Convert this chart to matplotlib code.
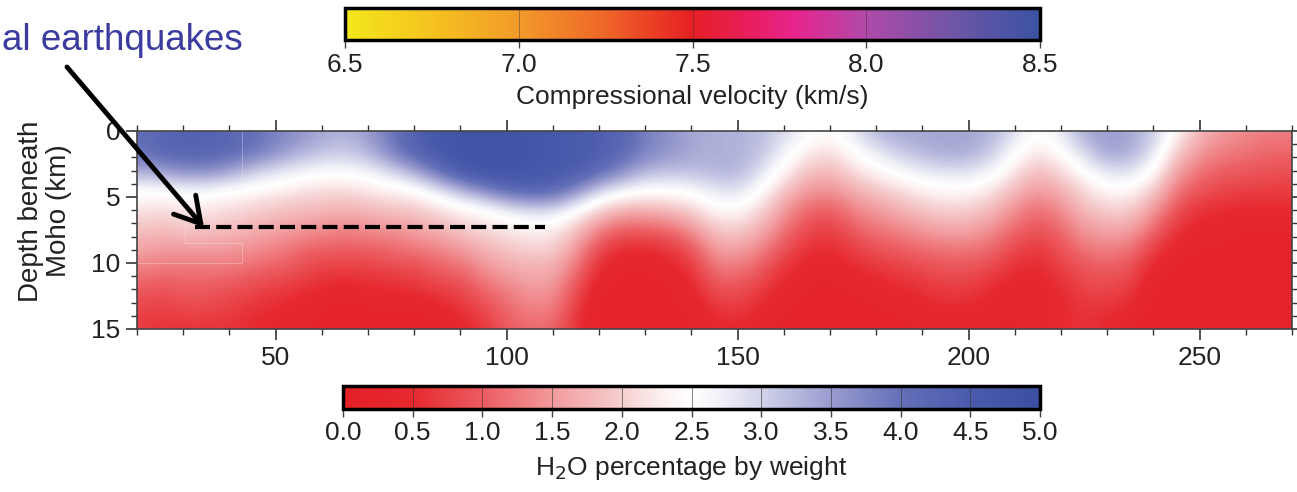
import numpy as np
import matplotlib
matplotlib.use("Agg")
import matplotlib.pyplot as plt
from matplotlib.colors import LinearSegmentedColormap, Normalize
from matplotlib.cm import ScalarMappable
from matplotlib.ticker import MultipleLocator

plt.rcParams['font.family'] = ['Liberation Sans', 'DejaVu Sans']

# ---------------- data ----------------
distance_km = [20, 25, 30, 35, 40, 45, 50, 55, 60, 65, 70, 75, 80, 85, 90, 95,
               100, 105, 110, 115, 120, 125, 130, 135, 140, 145, 150, 155, 160,
               165, 170, 175, 180, 185, 190, 195, 200, 205, 210, 215, 220, 225,
               230, 235, 240, 245, 250, 255, 260, 265, 270]
depth_km = [0, 1.5, 3, 4.5, 6, 7.5, 9, 10.5, 12, 13.5, 15]

# H2O wt% profiles (one list per distance, values at depth_km)
h2o_profiles = [
    [4.0, 4.0, 3.4, 2.5, 2.2, 1.9, 1.6, 1.3, 1.0, 0.8, 0.7],
    [4.2, 4.2, 3.5, 2.5, 2.1, 1.8, 1.5, 1.2, 0.9, 0.7, 0.6],
    [4.3, 4.3, 3.7, 2.6, 2.2, 1.9, 1.5, 1.2, 1.0, 0.8, 0.6],
    [4.3, 4.3, 3.7, 2.6, 2.2, 1.9, 1.5, 1.2, 1.0, 0.8, 0.6],
    [4.2, 4.2, 3.5, 2.5, 2.1, 1.8, 1.5, 1.2, 0.9, 0.7, 0.6],
    [4.0, 4.0, 3.1, 2.4, 2.0, 1.7, 1.4, 1.1, 0.8, 0.6, 0.5],
    [3.8, 3.7, 2.9, 2.3, 1.9, 1.6, 1.3, 1.0, 0.7, 0.5, 0.4],
    [3.6, 3.4, 2.7, 2.2, 1.8, 1.5, 1.1, 0.9, 0.6, 0.4, 0.3],
    [3.4, 3.2, 2.6, 2.1, 1.8, 1.4, 1.0, 0.7, 0.5, 0.3, 0.3],
    [3.3, 3.1, 2.6, 2.1, 1.7, 1.3, 1.0, 0.7, 0.4, 0.2, 0.2],
    [3.5, 3.3, 2.7, 2.2, 1.8, 1.4, 1.0, 0.7, 0.5, 0.3, 0.2],
    [3.9, 3.8, 3.0, 2.3, 1.9, 1.4, 1.1, 0.8, 0.5, 0.3, 0.2],
    [4.3, 4.3, 3.4, 2.4, 1.9, 1.6, 1.2, 0.8, 0.6, 0.3, 0.2],
    [4.6, 4.6, 4.0, 2.8, 2.1, 1.7, 1.3, 1.0, 0.7, 0.4, 0.2],
    [4.8, 4.8, 4.6, 3.2, 2.3, 1.9, 1.5, 1.1, 0.8, 0.6, 0.4],
    [4.8, 4.8, 4.8, 3.7, 2.4, 2.1, 1.7, 1.4, 1.1, 0.8, 0.6],
    [4.8, 4.8, 4.8, 4.1, 2.7, 2.2, 1.9, 1.6, 1.3, 1.1, 1.0],
    [4.7, 4.7, 4.7, 4.3, 2.9, 2.3, 2.0, 1.7, 1.5, 1.3, 1.1],
    [4.6, 4.6, 4.6, 4.2, 2.9, 2.3, 2.0, 1.7, 1.5, 1.3, 1.1],
    [4.5, 4.5, 4.5, 3.7, 2.5, 1.9, 1.5, 1.2, 0.9, 0.7, 0.6],
    [4.4, 4.4, 4.2, 3.0, 2.0, 1.3, 0.8, 0.5, 0.3, 0.2, 0.2],
    [4.2, 4.2, 3.7, 2.7, 1.7, 1.0, 0.5, 0.3, 0.2, 0.2, 0.2],
    [3.8, 3.8, 3.3, 2.5, 1.7, 1.0, 0.5, 0.3, 0.2, 0.2, 0.2],
    [3.6, 3.6, 3.2, 2.5, 1.8, 1.1, 0.6, 0.4, 0.3, 0.3, 0.3],
    [3.4, 3.4, 3.2, 2.6, 2.0, 1.4, 0.9, 0.6, 0.4, 0.3, 0.3],
    [3.3, 3.3, 3.3, 2.8, 2.4, 1.9, 1.5, 1.2, 0.9, 0.6, 0.4],
    [3.3, 3.3, 3.3, 2.9, 2.4, 2.0, 1.6, 1.2, 0.9, 0.7, 0.5],
    [3.2, 3.2, 2.9, 2.5, 2.1, 1.7, 1.3, 1.0, 0.7, 0.5, 0.3],
    [3.0, 2.7, 2.4, 1.9, 1.5, 1.2, 0.9, 0.6, 0.4, 0.3, 0.3],
    [2.6, 2.3, 1.9, 1.5, 1.1, 0.8, 0.6, 0.4, 0.3, 0.3, 0.3],
    [2.5, 2.1, 1.8, 1.4, 1.0, 0.7, 0.5, 0.3, 0.3, 0.3, 0.3],
    [2.8, 2.5, 2.1, 1.7, 1.3, 1.0, 0.7, 0.5, 0.3, 0.3, 0.3],
    [3.3, 2.8, 2.4, 1.9, 1.5, 1.2, 0.9, 0.6, 0.4, 0.3, 0.3],
    [3.4, 3.1, 2.6, 2.1, 1.7, 1.3, 1.0, 0.7, 0.5, 0.3, 0.3],
    [3.4, 3.3, 2.8, 2.3, 1.9, 1.5, 1.1, 0.8, 0.6, 0.4, 0.3],
    [3.4, 3.4, 2.9, 2.4, 2.0, 1.6, 1.2, 0.9, 0.7, 0.5, 0.3],
    [3.4, 3.4, 2.9, 2.4, 2.0, 1.6, 1.2, 0.9, 0.7, 0.5, 0.3],
    [3.3, 3.1, 2.7, 2.2, 1.8, 1.4, 1.1, 0.8, 0.5, 0.4, 0.3],
    [2.9, 2.6, 2.2, 1.8, 1.4, 1.1, 0.8, 0.5, 0.4, 0.3, 0.3],
    [2.5, 2.2, 1.8, 1.5, 1.1, 0.9, 0.6, 0.5, 0.4, 0.4, 0.4],
    [2.8, 2.5, 2.1, 1.7, 1.4, 1.1, 0.9, 0.7, 0.5, 0.5, 0.5],
    [3.4, 3.0, 2.5, 2.1, 1.8, 1.5, 1.2, 0.9, 0.8, 0.6, 0.6],
    [3.5, 3.5, 2.9, 2.4, 2.0, 1.6, 1.3, 1.0, 0.8, 0.6, 0.5],
    [3.4, 3.4, 2.9, 2.4, 2.0, 1.6, 1.2, 0.9, 0.7, 0.5, 0.3],
    [3.1, 2.9, 2.5, 2.0, 1.5, 1.1, 0.7, 0.4, 0.3, 0.2, 0.2],
    [2.4, 2.0, 1.6, 1.2, 0.9, 0.6, 0.4, 0.3, 0.2, 0.2, 0.2],
    [1.8, 1.5, 1.2, 0.9, 0.6, 0.4, 0.3, 0.2, 0.2, 0.2, 0.2],
    [1.5, 1.3, 1.0, 0.8, 0.5, 0.4, 0.3, 0.2, 0.2, 0.2, 0.2],
    [1.4, 1.2, 1.0, 0.7, 0.5, 0.3, 0.2, 0.2, 0.2, 0.2, 0.2],
    [1.3, 1.1, 0.9, 0.7, 0.5, 0.3, 0.2, 0.2, 0.2, 0.2, 0.2],
    [1.3, 1.1, 0.9, 0.7, 0.5, 0.3, 0.2, 0.2, 0.2, 0.2, 0.2],
]

x_ticks = [50, 100, 150, 200, 250]
depth_ticks = [0, 5, 10, 15]
velocity_ticks = [6.5, 7.0, 7.5, 8.0, 8.5]
h2o_ticks = [0.0, 0.5, 1.0, 1.5, 2.0, 2.5, 3.0, 3.5, 4.0, 4.5, 5.0]

dashed_x = [32.6, 108.3]
dashed_depth = [7.3, 7.3]
arrow_tip = (34.5, 7.3)

# faint outline of a pasted patch visible in the image (distance, depth)
patch_x = [42.7, 42.7, 30.4, 30.4, 42.7, 42.7, 20.0]
patch_depth = [0.0, 6.6, 6.6, 8.5, 8.5, 10.0, 10.0]

# ---------------- colormaps ----------------
h2o_cmap = LinearSegmentedColormap.from_list("h2o", [
    (0.0, "#e41f26"), (0.1, "#e62a30"), (0.2, "#ec5c60"), (0.3, "#f29a9c"),
    (0.4, "#f6cfd0"), (0.46, "#fdf1f1"), (0.5, "#ffffff"), (0.54, "#f2f2f9"),
    (0.6, "#d2d3ea"), (0.7, "#9a9ccf"),
    (0.8, "#6470b8"), (0.9, "#4a5bac"), (1.0, "#3a4ea3")])
vel_cmap = LinearSegmentedColormap.from_list("vel", [
    (0.0, "#f3e71c"), (0.125, "#f5c21f"), (0.25, "#f29a2a"), (0.375, "#ee6528"),
    (0.5, "#e61f24"), (0.6, "#e81f6a"), (0.65, "#e6258f"), (0.75, "#b04aa8"),
    (0.875, "#6f55a6"), (1.0, "#3a53a4")])

W, H = 1297, 492
fig = plt.figure(figsize=(W / 100, H / 100), dpi=100)

def px_axes(l, t, r, b):
    return fig.add_axes([l / W, 1 - b / H, (r - l) / W, (b - t) / H])

TXT = "#222222"
FS = 19

# ---------------- main panel ----------------
ax = px_axes(137, 131, 1292, 329)
grid = np.array(h2o_profiles).T
dx = distance_km[1] - distance_km[0]
dz = depth_km[1] - depth_km[0]
im = ax.imshow(grid, cmap=h2o_cmap, vmin=0, vmax=5, aspect='auto',
               interpolation='bicubic', origin='upper',
               extent=[distance_km[0] - dx / 2, distance_km[-1] + dx / 2,
                       depth_km[-1] + dz / 2, depth_km[0] - dz / 2])
ax.set_xlim(20, 270)
ax.set_ylim(15, 0)
ax.xaxis.set_major_locator(MultipleLocator(50))
ax.xaxis.set_minor_locator(MultipleLocator(10))
ax.yaxis.set_major_locator(MultipleLocator(5))
ax.yaxis.set_minor_locator(MultipleLocator(1))
ax.set_xticks(x_ticks)
ax.set_yticks(depth_ticks)
ax.tick_params(which='both', direction='out', top=True, right=True,
               colors='#333333', labelcolor=TXT, labelsize=FS)
ax.tick_params(which='major', length=8, width=1.2, pad=4)
ax.tick_params(which='minor', length=4, width=1.0)
for s in ax.spines.values():
    s.set_color('#444444')
    s.set_linewidth(1.2)
ax.set_ylabel("Depth beneath\nMoho (km)", fontsize=20, color=TXT,
              linespacing=1.1)
ax.yaxis.set_label_coords(-0.0563, 0.596)

ax.plot(patch_x, patch_depth, color='#f6eaee', lw=0.7, alpha=0.35)
ax.plot(dashed_x, dashed_depth, color='black', lw=3, dashes=(3.6, 1.5),
        solid_capstyle='butt')
ax.annotate('', xy=arrow_tip, xycoords='data', xytext=(67, H - 67),
            textcoords='figure pixels', annotation_clip=False,
            arrowprops=dict(arrowstyle='->,head_length=0.6,head_width=0.35',
                            lw=3.5, color='black', mutation_scale=30,
                            shrinkA=0, shrinkB=0))

# ---------------- top colorbar (velocity) ----------------
cax1 = px_axes(345, 8, 1040, 40)
cb1 = fig.colorbar(ScalarMappable(norm=Normalize(6.5, 8.5), cmap=vel_cmap),
                   cax=cax1, orientation='horizontal')
cb1.set_ticks(velocity_ticks)
cb1.set_ticklabels([f"{v:.1f}" for v in velocity_ticks])
cb1.outline.set_linewidth(2.5)
cax1.tick_params(length=6, width=1.0, color='#444444', labelsize=FS,
                 labelcolor=TXT, pad=3)
for v in velocity_ticks[1:-1]:
    cax1.axvline(v, color='#333333', lw=0.6, alpha=0.5)
cax1.set_xlabel("Compressional velocity (km/s)", fontsize=FS, color=TXT,
                labelpad=6)

# ---------------- bottom colorbar (H2O) ----------------
cax2 = px_axes(343, 386, 1040, 409)
cb2 = fig.colorbar(im, cax=cax2, orientation='horizontal')
cb2.set_ticks(h2o_ticks)
cb2.set_ticklabels([f"{v:.1f}" for v in h2o_ticks])
cb2.outline.set_linewidth(2.5)
cax2.tick_params(length=6, width=1.0, color='#444444', labelsize=FS,
                 labelcolor=TXT, pad=3)
for v in h2o_ticks[1:-1]:
    cax2.axvline(v, color='#333333', lw=0.7, alpha=0.6)
cax2.set_xlabel("H$_2$O percentage by weight", fontsize=FS, color=TXT,
                labelpad=6)

# ---------------- annotation text ----------------
fig.text(2 / W, 1 - 50 / H, "al earthquakes", fontsize=26.5, color="#3b3ba0",
         ha='left', va='baseline')

fig.savefig("out.png", dpi=100)
